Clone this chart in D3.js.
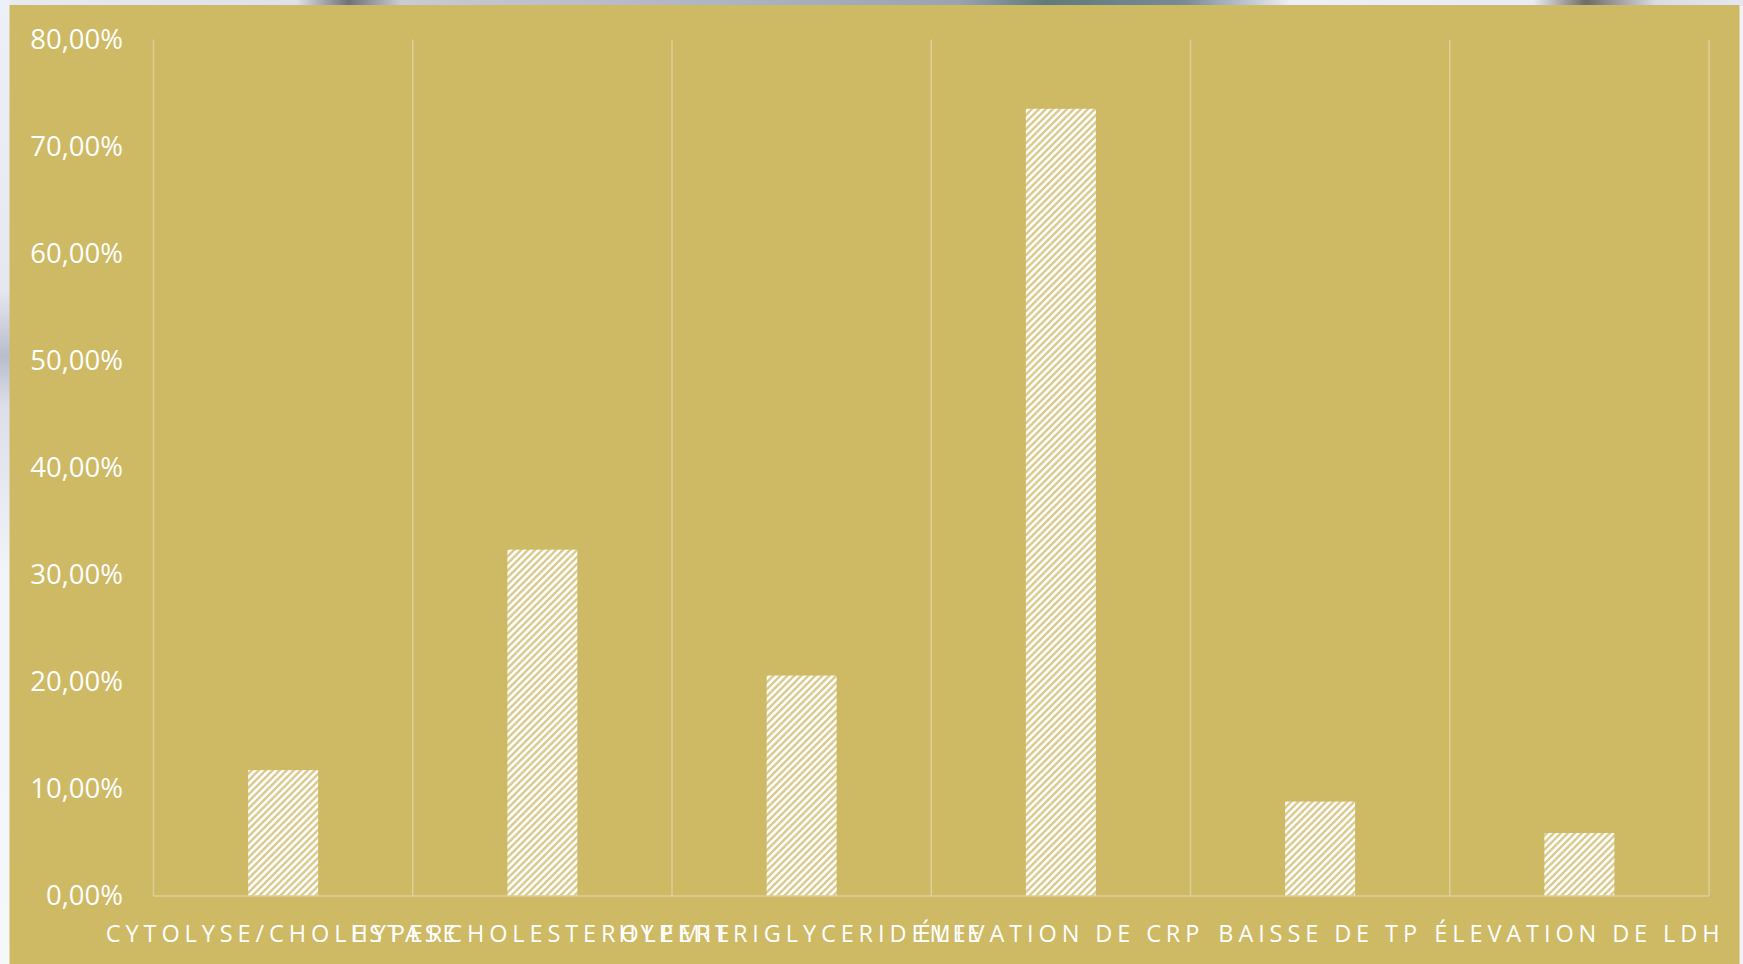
<!DOCTYPE html>
<html>
<head>
<meta charset="utf-8">
<script src="https://cdn.jsdelivr.net/npm/d3@7"></script>
<style>
  html, body { margin: 0; padding: 0; background: #f1f2f8; }
  svg { display: block; }
</style>
</head>
<body>
<svg id="chart" width="1743" height="964"></svg>
<script>
const categories = [
  "CYTOLYSE/CHOLESTASE",
  "HYPERCHOLESTEROLEMIE",
  "HYPERTRIGLYCERIDEMIE",
  "ÉLEVATION DE CRP",
  "BAISSE DE TP",
  "ÉLEVATION DE LDH"
];
const values = [0.1176, 0.3235, 0.2059, 0.7353, 0.0882, 0.0588];
const yTicks = [0, 0.1, 0.2, 0.3, 0.4, 0.5, 0.6, 0.7, 0.8];

(function () {
const W = 1743, H = 964;
const gold = "#ceb965";
const svg = d3.select("#chart");

const defs = svg.append("defs");
// top strip (background image remnants)
const tg = defs.append("linearGradient").attr("id", "topstrip");
[[0, "#e8eaf2"], [0.17, "#dfe1ea"], [0.2, "#6f7078"], [0.23, "#c9cbd6"], [0.55, "#9aa3b0"], [0.6, "#5f7a7c"], [0.68, "#7a8a96"], [0.74, "#eceef8"], [0.88, "#e8eaf4"], [0.91, "#6e6c66"], [0.95, "#d9dbe6"], [1, "#e4e6f0"]]
  .forEach(([o, c]) => tg.append("stop").attr("offset", o).attr("stop-color", c));
svg.append("rect").attr("x", 0).attr("y", 0).attr("width", W).attr("height", 6).attr("fill", "url(#topstrip)");
// left strip
const lg = defs.append("linearGradient").attr("id", "leftstrip").attr("x1", 0).attr("y1", 0).attr("x2", 0).attr("y2", 1);
[[0, "#eef0f7"], [0.3, "#e6e8f0"], [0.37, "#b9bdcc"], [0.42, "#dcdfe9"], [0.6, "#f3f4f9"], [1, "#f6f7fb"]]
  .forEach(([o, c]) => lg.append("stop").attr("offset", o).attr("stop-color", c));
svg.append("rect").attr("x", 0).attr("y", 0).attr("width", 10).attr("height", H).attr("fill", "url(#leftstrip)");

// hatch pattern
const pat = defs.append("pattern")
  .attr("id", "hatch").attr("patternUnits", "userSpaceOnUse")
  .attr("width", 7).attr("height", 7);
pat.append("rect").attr("width", 7).attr("height", 7).attr("fill", "#ffffff");
pat.append("path")
  .attr("d", "M-1,8 L8,-1 M-1,1 L1,-1 M6,8 L8,6")
  .attr("stroke", "#dccb8e").attr("stroke-width", 2.4);

// gold panel
svg.append("rect").attr("x", 9.5).attr("y", 5).attr("width", 1730).attr("height", H - 5).attr("fill", gold);

const pLeft = 153.5, pRight = 1709, pTop = 39.5, pBottom = 896;
const x = d3.scaleBand().domain(categories).range([pLeft, pRight]).padding(0);
const y = d3.scaleLinear().domain([0, 0.8]).range([pBottom, pTop]);
const barW = x.bandwidth() * 0.27;

const gridColor = "#dccf97";

// vertical category gridlines
const bounds = categories.map(c => x(c)).concat([pRight]);
svg.append("g").selectAll("line").data(bounds).join("line")
  .attr("x1", d => d).attr("x2", d => d)
  .attr("y1", pTop).attr("y2", pBottom)
  .attr("stroke", gridColor).attr("stroke-width", 1.5);

// bars
svg.append("g").selectAll("rect").data(values).join("rect")
  .attr("x", (d, i) => x(categories[i]) + (x.bandwidth() - barW) / 2)
  .attr("y", d => y(d))
  .attr("width", barW)
  .attr("height", d => pBottom - y(d))
  .attr("fill", "url(#hatch)");

// x axis line
svg.append("line").attr("x1", pLeft).attr("x2", pRight).attr("y1", pBottom).attr("y2", pBottom)
  .attr("stroke", gridColor).attr("stroke-width", 1.5);

// y axis labels
const fmt = v => (v * 100).toFixed(2).replace(".", ",") + "%";
const yAxis = d3.axisLeft(y).tickValues(yTicks).tickFormat(fmt).tickSize(0).tickPadding(0);
const yg = svg.append("g").attr("transform", `translate(123,0)`).call(yAxis);
yg.select(".domain").remove();
yg.selectAll("text")
  .attr("fill", "#ffffff")
  .style("font-family", "'Open Sans', sans-serif")
  .style("font-size", "27.5px");

// x axis labels
const xAxis = d3.axisBottom(x).tickSize(0).tickPadding(0);
const xg = svg.append("g").attr("transform", `translate(0,${pBottom})`).call(xAxis);
xg.select(".domain").remove();
xg.selectAll("text")
  .attr("fill", "#ffffff")
  .attr("dy", 0)
  .attr("y", 46)
  .style("font-family", "'Open Sans', sans-serif")
  .style("font-size", "23.5px")
  .style("letter-spacing", "4.9px");
})();
</script>
</body>
</html>
